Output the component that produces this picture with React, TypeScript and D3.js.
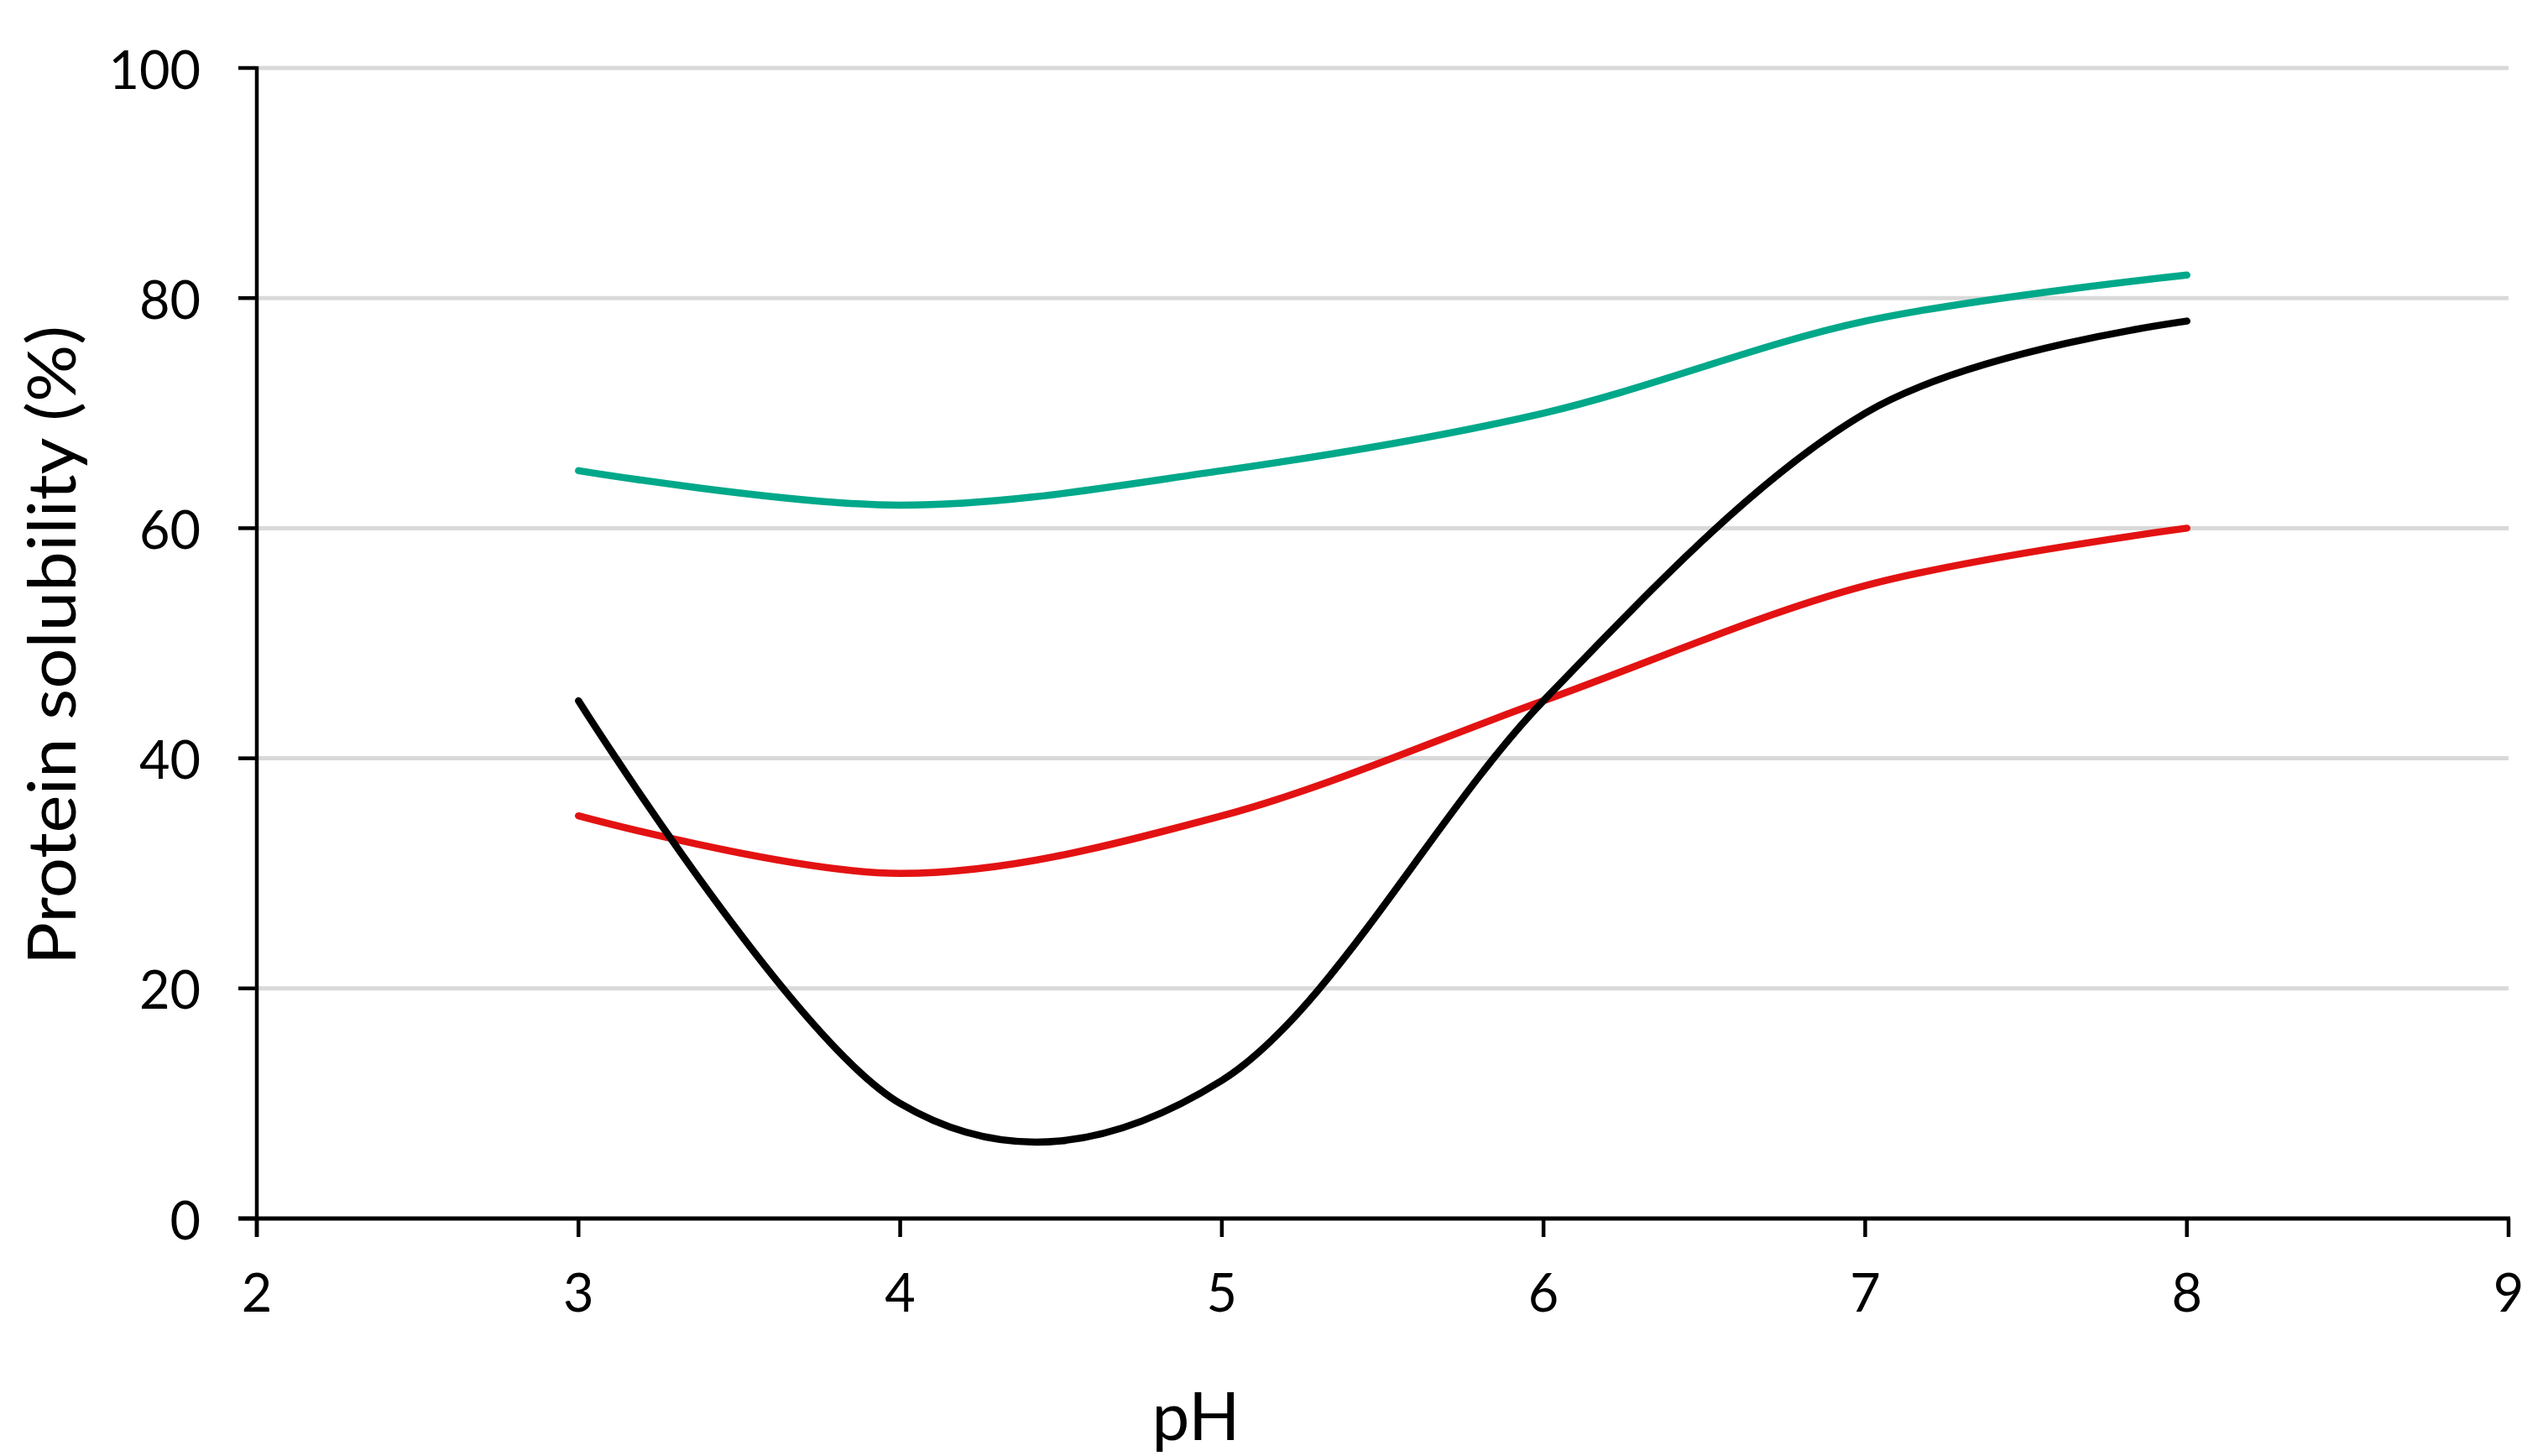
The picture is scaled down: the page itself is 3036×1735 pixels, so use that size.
import React from "react";
import * as d3 from "d3";

const pH = [3, 4, 5, 6, 7, 8];
const greenSeries = [65, 62, 65, 70, 78, 82];
const redSeries = [35, 30, 35, 45, 55, 60];
const blackSeries = [45, 10, 12, 45, 70, 78];
const xTicks = [2, 3, 4, 5, 6, 7, 8, 9];
const yTicks = [0, 20, 40, 60, 80, 100];
const xTitle = "pH";
const yTitle = "Protein solubility (%)";

const W = 3036;
const H = 1735;
const FONT = "Lato, 'Open Sans', sans-serif";

export default function App() {
  const x = d3.scaleLinear().domain([2, 9]).range([306, 2989]);
  const y = d3.scaleLinear().domain([0, 100]).range([1452, 81]);
  const tick = 22;

  const line = d3
    .line<number>()
    .x((_, i) => x(pH[i]))
    .y((d) => y(d))
    .curve(d3.curveCatmullRom.alpha(0));

  const series = [
    { values: greenSeries, color: "#00a88a" },
    { values: redSeries, color: "#e31212" },
    { values: blackSeries, color: "#000000" },
  ];

  return (
    <svg
      width={W}
      height={H}
      viewBox={`0 0 ${W} ${H}`}
      style={{ position: "absolute", left: 0, top: 0, background: "#fff" }}
    >
      <rect x={0} y={0} width={W} height={H} fill="#fff" />
      {/* gridlines */}
      {yTicks
        .filter((t) => t > 0)
        .map((t) => (
          <line
            key={"g" + t}
            x1={x(2)}
            x2={x(9)}
            y1={y(t)}
            y2={y(t)}
            stroke="#d9d9d9"
            strokeWidth={5}
          />
        ))}
      {/* series */}
      {series.map((s, i) => (
        <path
          key={"s" + i}
          d={line(s.values) || ""}
          fill="none"
          stroke={s.color}
          strokeWidth={8.5}
          strokeLinecap="round"
          strokeLinejoin="round"
        />
      ))}
      {/* y axis */}
      <line x1={x(2)} x2={x(2)} y1={y(100) - 2} y2={y(0) + tick} stroke="#000" strokeWidth={4.5} />
      {yTicks.map((t) => (
        <g key={"yt" + t}>
          <line x1={x(2) - tick} x2={x(2)} y1={y(t)} y2={y(t)} stroke="#000" strokeWidth={4.5} />
          <text
            x={239}
            y={y(t)}
            textAnchor="end"
            dominantBaseline="central"
            fontFamily={FONT}
            fontSize={63}
            fill="#000"
          >
            {t}
          </text>
        </g>
      ))}
      {/* x axis */}
      <line x1={x(2) - tick} x2={x(9) + 2} y1={y(0)} y2={y(0)} stroke="#000" strokeWidth={5} />
      {xTicks.map((t) => (
        <g key={"xt" + t}>
          <line x1={x(t)} x2={x(t)} y1={y(0)} y2={y(0) + tick} stroke="#000" strokeWidth={4.5} />
          <text
            x={x(t)}
            y={1563}
            textAnchor="middle"
            fontFamily={FONT}
            fontSize={63}
            fill="#000"
          >
            {t}
          </text>
        </g>
      ))}
      {/* axis titles */}
      <text
        x={1425}
        y={1716}
        textAnchor="middle"
        fontFamily={FONT}
        fontSize={80}
        fill="#000"
      >
        {xTitle}
      </text>
      <text
        transform={`translate(90, 769) rotate(-90)`}
        textAnchor="middle"
        fontFamily={FONT}
        fontSize={80}
        fill="#000"
        textLength={762}
        lengthAdjust="spacingAndGlyphs"
      >
        {yTitle}
      </text>
    </svg>
  );
}
